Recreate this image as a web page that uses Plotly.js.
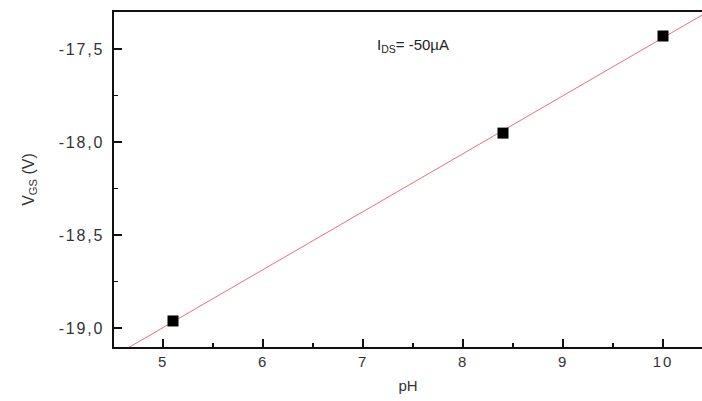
<!DOCTYPE html>
<html>
<head>
<meta charset="utf-8">
<script src="https://cdn.plot.ly/plotly-3.0.1.min.js"></script>
<style>
html,body{margin:0;padding:0;background:#fff;}
#chart{width:702px;height:401px;}
.xtick text,.ytick text{letter-spacing:1.8px;}
</style>
</head>
<body>
<div id="chart"></div>
<script>
// Data
var pH = [5.1, 8.4, 10.0];
var vgs = [-18.962, -17.952, -17.43];
var fitRange = [4.3, 10.8];
var xTickVals = [5, 6, 7, 8, 9, 10];
var yTickVals = [-19.0, -18.5, -18.0, -17.5];
var yTickText = ['-19,0', '-18,5', '-18,0', '-17,5'];
var annotationText = 'I<sub>DS</sub>= -50µA';

// least-squares linear fit of the data
var n = pH.length, mx = 0, my = 0;
for (var i = 0; i < n; i++) { mx += pH[i]; my += vgs[i]; }
mx /= n; my /= n;
var sxy = 0, sxx = 0;
for (var i = 0; i < n; i++) { sxy += (pH[i]-mx)*(vgs[i]-my); sxx += (pH[i]-mx)*(pH[i]-mx); }
var slope = sxy/sxx, icpt = my - slope*mx;
var fitX = fitRange.slice();
var fitY = fitX.map(function(x){ return icpt + slope*x; });

var fam = 'Liberation Sans, Arial, sans-serif';

var traces = [
  {x: fitX, y: fitY, mode: 'lines', line: {color: '#e8707a', width: 1}, hoverinfo: 'skip', showlegend: false},
  {x: pH, y: vgs, mode: 'markers', marker: {symbol: 'square', size: 11, color: '#000'}, showlegend: false}
];

var layout = {
  width: 702, height: 401,
  margin: {l: 114, r: 0, t: 12, b: 54},
  paper_bgcolor: '#fff', plot_bgcolor: '#fff',
  separators: ',.',
  font: {family: fam, size: 14, color: '#222'},
  showlegend: false,
  xaxis: {
    range: [4.51, 10.39],
    tickvals: xTickVals,
    ticks: 'inside', ticklen: 8, tickwidth: 1.5, tickcolor: '#111',
    minor: {dtick: 0.5, tick0: 0, ticks: 'inside', ticklen: 4, tickwidth: 1.5, tickcolor: '#111'},
    showline: true, linecolor: '#111', linewidth: 1.6, mirror: true,
    showgrid: false, zeroline: false,
    tickfont: {family: fam, size: 15, color: '#333'},
    title: {text: 'pH', font: {family: fam, size: 15, color: '#333'}, standoff: 12}
  },
  yaxis: {
    range: [-19.102, -17.301],
    tickvals: yTickVals,
    ticktext: yTickText,
    ticks: 'inside', ticklen: 8, tickwidth: 1.5, tickcolor: '#111',
    minor: {dtick: 0.25, tick0: 0, ticks: 'inside', ticklen: 4, tickwidth: 1.5, tickcolor: '#111'},
    showline: true, linecolor: '#111', linewidth: 1.6, mirror: false,
    showgrid: false, zeroline: false,
    tickfont: {family: fam, size: 16, color: '#333'},
    ticklabelstandoff: 5,
    title: {text: 'V<sub>GS</sub> (V)', font: {family: fam, size: 16, color: '#333'}, standoff: 20}
  },
  annotations: [{
    xref: 'paper', yref: 'paper',
    x: (375-114)/588, y: (347-45)/335,
    xanchor: 'left', yanchor: 'middle',
    text: annotationText, showarrow: false,
    font: {family: fam, size: 15, color: '#222'}
  }]
};

Plotly.newPlot('chart', traces, layout, {staticPlot: true, displayModeBar: false});
</script>
</body>
</html>
